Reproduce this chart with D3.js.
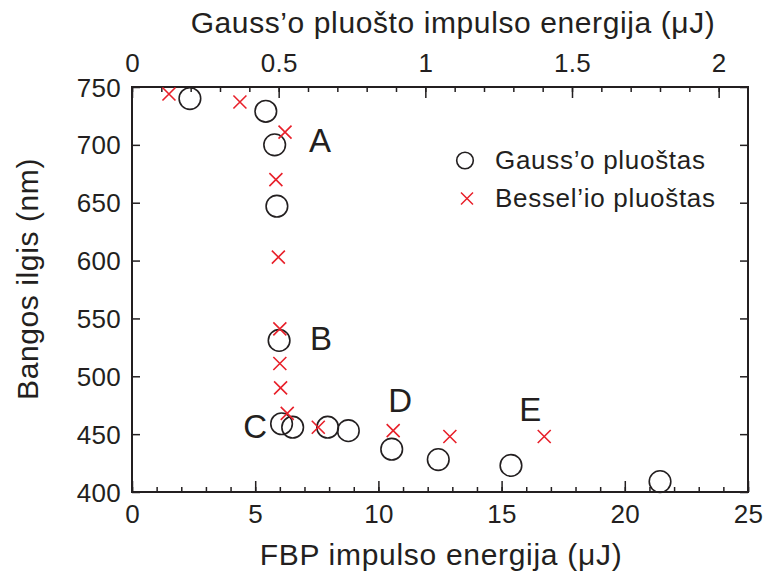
<!DOCTYPE html>
<html>
<head>
<meta charset="utf-8">
<script src="https://cdn.jsdelivr.net/npm/d3@7"></script>
<style>
  html, body { margin: 0; padding: 0; background: #fff; }
  svg text { font-family: "Liberation Sans", Arial, Helvetica, sans-serif; fill: #231f20; }
</style>
</head>
<body>
<svg id="chart" width="766" height="574"></svg>
<script>
// FBP pulse energy (µJ) vs. wavelength (nm)
const gaussEnergy = [2.35, 5.43, 5.79, 5.88, 5.97, 6.07, 6.52, 7.94, 8.78, 10.54, 12.43, 15.38, 21.43];
const gaussWavelength = [740, 729, 700, 647, 531, 459, 456, 456, 453, 437, 428, 423, 409];

const besselEnergy = [1.5, 4.38, 6.21, 5.84, 5.94, 6.0, 6.0, 6.03, 6.3, 7.56, 10.6, 12.9, 16.73];
const besselWavelength = [744, 737, 711, 670, 603, 541, 511, 490, 468, 456, 453, 448, 448];

// point labels, in data coordinates
const pointLabels = ["A", "B", "C", "D", "E"];
const pointLabelX = [7.18, 7.22, 4.52, 10.4, 15.72];
const pointLabelY = [693.8, 522.7, 446.4, 469.4, 461.6];

const bottomTicks = [0, 5, 10, 15, 20, 25];
const topTicks = [0, 0.5, 1, 1.5, 2];
const yTicks = [400, 450, 500, 550, 600, 650, 700, 750];

const legendNames = ["Gauss\u2019o pluoštas", "Bessel\u2019io pluoštas"];

const W = 766, H = 574;
const m = { left: 132, right: 18, top: 87, bottom: 82 };
const x0 = m.left, x1 = W - m.right, y0 = m.top, y1 = H - m.bottom;

const red = "#e8202a", ink = "#231f20";

const svg = d3.select("#chart");
svg.append("rect").attr("width", W).attr("height", H).attr("fill", "#fff");

const x = d3.scaleLinear().domain([0, 25]).range([x0, x1]);
const xTop = d3.scaleLinear().domain([0, 2.1]).range([x0, x1]);
const y = d3.scaleLinear().domain([400, 750]).range([y1, y0]);

const fmt = d3.format("");

function drawAxis(g, axis) {
  g.call(axis);
  g.select(".domain").remove();
  g.selectAll("line").attr("stroke", ink).attr("stroke-width", 1.5);
  g.selectAll("text").attr("font-size", 26).attr("fill", ink).attr("letter-spacing", 0.3);
}

// bottom axis: majors labelled every 5 µJ, minors every 1 µJ (ticks point inward)
const gB = svg.append("g").attr("transform", `translate(0,${y1})`);
drawAxis(gB, d3.axisBottom(x).tickValues(d3.range(0, 26, 1)).tickSize(-5).tickFormat(""));
const gB2 = svg.append("g").attr("transform", `translate(0,${y1})`);
drawAxis(gB2, d3.axisBottom(x).tickValues(bottomTicks).tickSize(-11).tickFormat(fmt));
gB2.selectAll("text").attr("dy", 0).attr("y", 31);

// top axis: Gaussian-beam pulse energy, minors every 0.1 µJ
const gT = svg.append("g").attr("transform", `translate(0,${y0})`);
drawAxis(gT, d3.axisTop(xTop).tickValues(d3.range(0, 21, 1).map(d => d / 10)).tickSize(-5).tickFormat(""));
const gT2 = svg.append("g").attr("transform", `translate(0,${y0})`);
drawAxis(gT2, d3.axisTop(xTop).tickValues(topTicks).tickSize(-11).tickFormat(fmt));
gT2.selectAll("text").attr("dy", 0).attr("y", -15);

const gL = svg.append("g").attr("transform", `translate(${x0},0)`);
drawAxis(gL, d3.axisLeft(y).tickValues(yTicks).tickSize(-8).tickFormat(fmt));
gL.selectAll("text").attr("x", -11).attr("dy", "0.35em");

const gR = svg.append("g").attr("transform", `translate(${x1},0)`);
drawAxis(gR, d3.axisRight(y).tickValues(yTicks).tickSize(-8).tickFormat(""));

// frame
svg.append("rect")
  .attr("x", x0).attr("y", y0).attr("width", x1 - x0).attr("height", y1 - y0)
  .attr("fill", "none").attr("stroke", ink).attr("stroke-width", 2);

// axis titles
svg.append("text").attr("x", 453).attr("y", 33).attr("text-anchor", "middle")
  .attr("font-size", 30).attr("letter-spacing", 0.6)
  .text("Gauss\u2019o pluošto impulso energija (\u03bcJ)");
svg.append("text").attr("x", 441).attr("y", 565).attr("text-anchor", "middle")
  .attr("font-size", 30).attr("letter-spacing", 0.7)
  .text("FBP impulso energija (\u03bcJ)");
svg.append("text").attr("transform", "translate(38,279) rotate(-90)").attr("text-anchor", "middle")
  .attr("font-size", 30).attr("letter-spacing", 0.6)
  .text("Bangos ilgis (nm)");

// marker helpers
function cross(g, cx, cy, s, w) {
  g.append("path")
    .attr("d", `M${cx - s},${cy - s}L${cx + s},${cy + s}M${cx - s},${cy + s}L${cx + s},${cy - s}`)
    .attr("stroke", red).attr("stroke-width", w).attr("fill", "none");
}

const gauss = gaussEnergy.map((e, i) => ({ e, w: gaussWavelength[i] }));
const bessel = besselEnergy.map((e, i) => ({ e, w: besselWavelength[i] }));

svg.append("g").selectAll("circle").data(gauss).join("circle")
  .attr("cx", d => x(d.e)).attr("cy", d => y(d.w)).attr("r", 10.8)
  .attr("fill", "none").attr("stroke", ink).attr("stroke-width", 1.6);

const gx = svg.append("g");
bessel.forEach(d => cross(gx, x(d.e), y(d.w), 6.5, 1.6));

// point letters
svg.append("g").selectAll("text").data(pointLabels).join("text")
  .attr("x", (d, i) => x(pointLabelX[i])).attr("y", (d, i) => y(pointLabelY[i]))
  .attr("font-size", 33).text(d => d);

// legend
const lg = svg.append("g");
lg.append("circle").attr("cx", 465).attr("cy", 160.5).attr("r", 8.3)
  .attr("fill", "none").attr("stroke", ink).attr("stroke-width", 1.6);
cross(lg, 467, 198.5, 6, 1.5);
lg.selectAll("text").data(legendNames).join("text")
  .attr("x", 495).attr("y", (d, i) => 169 + i * 37.5)
  .attr("font-size", 26).attr("letter-spacing", 0.7).text(d => d);
</script>
</body>
</html>
